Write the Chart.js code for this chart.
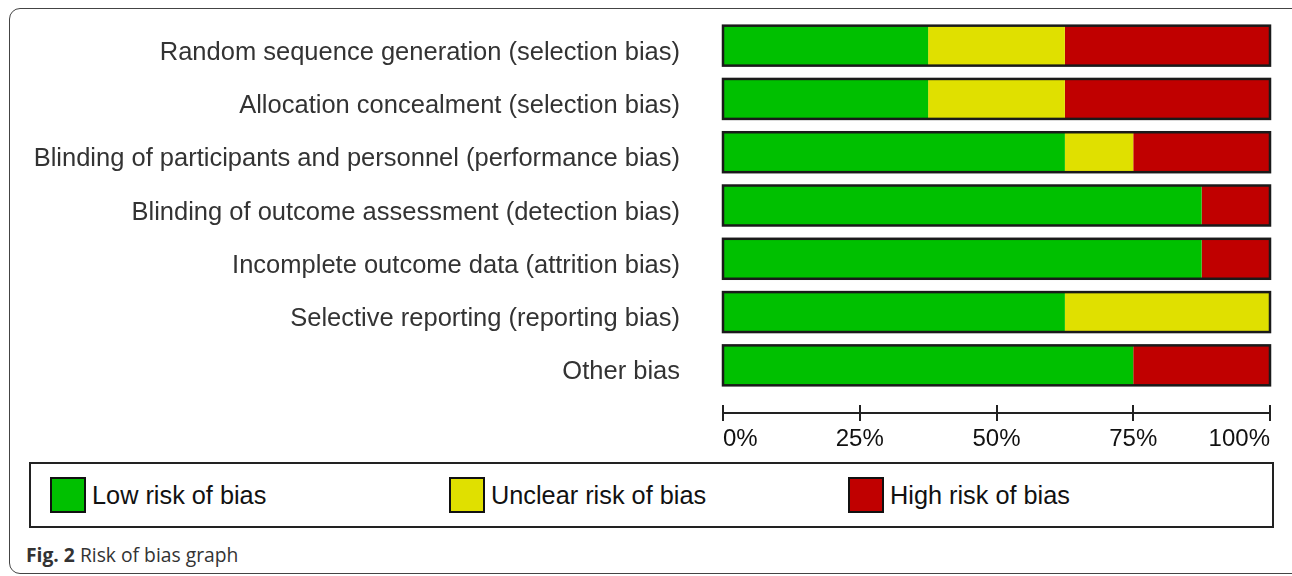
<!DOCTYPE html>
<html>
<head>
<meta charset="utf-8">
<script src="https://cdn.jsdelivr.net/npm/chart.js@4/dist/chart.umd.min.js"></script>
<style>
  html, body { margin: 0; padding: 0; background: #fff; overflow: hidden; }
  body { width: 1292px; height: 576px; position: relative; font-family: "Liberation Sans", Arial, sans-serif; }
  #frame { position: absolute; left: 9px; top: 8px; width: 1300px; height: 566px; border: 1px solid #444; border-radius: 11px; box-sizing: border-box; }
  #wrap { position: absolute; left: 0; top: 0; width: 1292px; height: 460px; }
  #legend { position: absolute; left: 29px; top: 462px; width: 1245px; height: 66px; border: 2px solid #222; box-sizing: border-box; }
  .item { position: absolute; top: 13px; height: 36px; display: flex; align-items: center; font-size: 25.3px; color: #111; }
  .sw { width: 32px; height: 32px; border: 2px solid #111; margin-right: 6px; }
  #caption { position: absolute; left: 26px; top: 541px; font-family: "Open Sans", sans-serif; font-size: 19.3px; color: #333; }
</style>
</head>
<body>
<div id="frame"></div>
<div id="wrap"><canvas id="robChart"></canvas></div>
<div id="legend"></div>
<div id="caption"><b>Fig. 2</b> Risk of bias graph</div>
<script>
// Domínios e percentuais
const dominios = [
    'Random sequence generation (selection bias)',
    'Allocation concealment (selection bias)',
    'Blinding of participants and personnel (performance bias)',
    'Blinding of outcome assessment (detection bias)',
    'Incomplete outcome data (attrition bias)',
    'Selective reporting (reporting bias)',
    'Other bias'
];
const baixoRisco = [37.5, 37.5, 62.5, 87.5, 87.5, 62.5, 75];
const riscoIncerto = [25, 25, 12.5, 0, 0, 37.5, 0];
const altoRisco = [37.5, 37.5, 25, 12.5, 12.5, 0, 25];
const series = ['Low risk of bias', 'Unclear risk of bias', 'High risk of bias'];
const CORES = ['#00c000', '#e0e000', '#c00000'];
const ticksX = [0, 25, 50, 75, 100];

// legenda em HTML
const legenda = document.getElementById('legend');
series.forEach(function(nome, i) {
    const div = document.createElement('div');
    div.className = 'item';
    div.style.left = (19 + i * 399) + 'px';
    div.innerHTML = '<span class="sw" style="background:' + CORES[i] + '"></span>' + nome;
    legenda.appendChild(div);
});

// contorno preto de cada barra
const contornoBarras = {
    id: 'contornoBarras',
    afterDatasetsDraw(chart) {
        const ctx = chart.ctx;
        const x = chart.scales.x;
        const meta = chart.getDatasetMeta(0);
        ctx.save();
        ctx.strokeStyle = '#1a1a1a';
        ctx.lineWidth = 2.5;
        meta.data.forEach(function(bar) {
            const h = bar.height;
            const left = x.getPixelForValue(0);
            const right = x.getPixelForValue(100);
            ctx.strokeRect(left, bar.y - h / 2, right - left, h);
        });
        ctx.restore();
    }
};

// eixo x com marcas cruzando a linha
const eixoX = {
    id: 'eixoX',
    afterDraw(chart) {
        const ctx = chart.ctx;
        const x = chart.scales.x;
        const y = chart.chartArea.bottom + 21;
        ctx.save();
        ctx.strokeStyle = '#222';
        ctx.lineWidth = 2;
        ctx.beginPath();
        ctx.moveTo(x.getPixelForValue(0), y);
        ctx.lineTo(x.getPixelForValue(100), y);
        ticksX.forEach(function(v) {
            const px = Math.round(x.getPixelForValue(v));
            ctx.moveTo(px, y - 8);
            ctx.lineTo(px, y + 8);
        });
        ctx.stroke();
        ctx.restore();
    }
};

const ctx = document.getElementById('robChart').getContext('2d');
new Chart(ctx, {
    type: 'bar',
    data: {
        labels: dominios,
        datasets: [
            { label: series[0], data: baixoRisco, backgroundColor: CORES[0] },
            { label: series[1], data: riscoIncerto, backgroundColor: CORES[1] },
            { label: series[2], data: altoRisco, backgroundColor: CORES[2] }
        ]
    },
    options: {
        indexAxis: 'y',
        responsive: true,
        maintainAspectRatio: false,
        animation: false,
        layout: { padding: { top: 19, right: 22, left: 0, bottom: 0 } },
        datasets: { bar: { barPercentage: 1, categoryPercentage: 0.75, borderWidth: 0 } },
        scales: {
            x: {
                stacked: true,
                min: 0,
                max: 100,
                afterBuildTicks: function(scale) {
                    scale.ticks = ticksX.map(v => ({ value: v }));
                },
                afterFit: function(scale) { scale.height = 68; },
                grid: { display: true, drawOnChartArea: false, drawTicks: true, tickLength: 33, color: 'rgba(0,0,0,0)' },
                border: { display: false },
                ticks: {
                    align: 'inner',
                    padding: 0,
                    color: '#111',
                    font: { family: '"Liberation Sans", Arial, sans-serif', size: 24 },
                    callback: function(value) { return value + '%'; }
                }
            },
            y: {
                stacked: true,
                afterFit: function(scale) { scale.width = 723; },
                grid: { display: true, drawOnChartArea: false, drawTicks: true, tickLength: 43, color: 'rgba(0,0,0,0)' },
                border: { display: false },
                ticks: {
                    padding: 0,
                    labelOffset: 7,
                    color: '#333',
                    font: { family: '"Liberation Sans", Arial, sans-serif', size: 25.5 }
                }
            }
        },
        plugins: {
            legend: { display: false },
            tooltip: { enabled: false }
        }
    },
    plugins: [contornoBarras, eixoX]
});
</script>
</body>
</html>
